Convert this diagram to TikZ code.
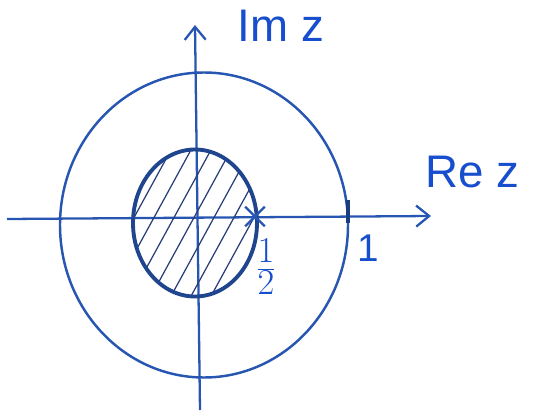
\documentclass[tikz,border=0pt]{standalone}
\usepackage{fontspec}
\setmainfont{Liberation Sans}
\usetikzlibrary{positioning,arrows.meta,calc}
\definecolor{penblue}{RGB}{38,86,178}
\definecolor{inkblue}{RGB}{22,78,206}
\definecolor{hatchblue}{RGB}{40,60,120}
\tikzset{
  axisline/.style={-{Straight Barb[length=2.6mm,width=4.2mm]}, line width=1.3pt, penblue},
  circleline/.style={line width=1.4pt, penblue},
  diskline/.style={line width=2.2pt, penblue!80!black},
  hatchline/.style={line width=0.7pt, hatchblue},
  axislabel/.style={font=\fontsize{26}{28}\selectfont, text=inkblue, inner sep=1pt},
  ticklabel/.style={font=\fontsize{22}{24}\selectfont, text=inkblue, inner sep=1pt}
}

\begin{document}
\begin{tikzpicture}
  \useasboundingbox (-4,-3.84) rectangle (7.06,4.36);
  % axes
  \coordinate (xstart) at (-3.86,-0.02);
  \coordinate (xend) at (4.62,0.04);
  \coordinate (ystart) at (0,-3.84);
  \coordinate (yend) at (-0.1,3.86);
  \draw[axisline] (xstart) -- (xend);
  \draw[axisline] (ystart) -- (yend);
  % unit circle
  \draw[circleline] (0.08,-0.14) ellipse [x radius=2.88, y radius=3.05];
  % hatched disk
  \begin{scope}
    \clip (-0.1,-0.1) ellipse [x radius=1.22, y radius=1.45];
    \foreach \s in {-3,-2.6,...,2.2}
      \draw[hatchline] (\s,-1.6) -- ++(1.75,3.2);
  \end{scope}
  \draw[diskline] (-0.1,-0.1) ellipse [x radius=1.24, y radius=1.47];
  % marks
  \node[inner sep=0pt, minimum size=0.38cm] (half) at (1.1,0.03) {};
  \draw[line width=1.4pt, penblue] (half.north west) -- (half.south east)
    (half.north east) -- (half.south west);
  \draw[line width=2.6pt, penblue!70!black] (2.96,0.35) -- (2.96,-0.1);
  % labels
  \node[axislabel] (imz) at (1.62,3.84) {Im z};
  \node[axislabel] (rez) at (5.44,0.92) {Re z};
  \node[ticklabel, font=\fontsize{28}{30}\selectfont] (halflabel) at (1.32,-0.98) {$\frac{1}{2}$};
  \node[ticklabel] (onelabel) at (3.36,-0.6) {1};
\end{tikzpicture}
\end{document}
